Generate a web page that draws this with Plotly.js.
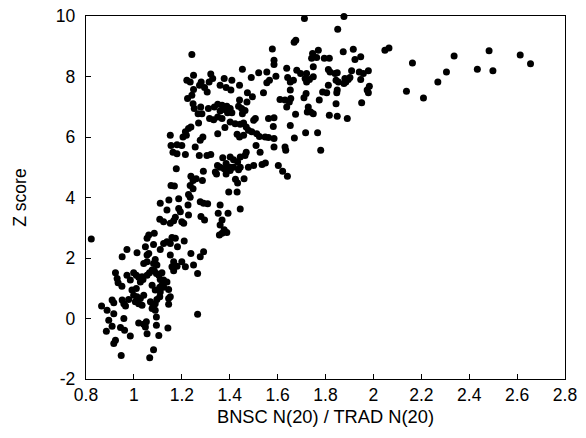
<!DOCTYPE html>
<html>
<head>
<meta charset="utf-8">
<script src="https://cdn.plot.ly/plotly-3.0.1.min.js"></script>
<style>html,body{margin:0;padding:0;background:#fff;}#chart{width:586px;height:438px;}</style>
</head>
<body>
<div id="chart"></div>
<script>
// BNSC N(20) / TRAD N(20) ratio
const ratio = [
1.242,1.578,1.585,1.585,1.669,1.676,1.638,1.680,1.453,1.521,1.555,1.490,1.593,1.249,1.221,1.235,1.281,1.274,1.321,1.329,
1.314,1.295,1.249,1.306,1.360,1.377,1.409,1.385,1.405,1.441,1.474,1.495,1.541,1.555,1.566,1.642,1.653,1.666,1.653,1.610,
1.631,1.649,1.655,1.224,1.242,1.247,1.252,1.268,1.284,1.279,1.311,1.336,1.350,1.368,1.388,1.402,1.409,1.377,1.391,1.360,
1.437,1.450,1.464,1.441,1.472,1.453,1.316,1.333,1.350,1.368,1.380,1.350,1.402,1.423,1.444,1.458,1.469,1.500,1.507,1.562,
1.585,1.582,1.638,1.653,1.675,1.670,1.631,1.634,1.270,1.228,1.238,1.215,1.219,1.205,1.152,1.155,1.180,1.200,1.163,1.180,
1.215,1.277,1.288,1.256,1.273,1.305,1.321,1.431,1.441,1.458,1.478,1.492,1.513,1.524,1.548,1.562,1.585,1.585,1.510,1.527,
1.469,1.464,1.444,1.433,1.402,1.416,1.371,1.385,1.349,1.360,1.377,1.402,1.416,1.340,1.345,1.385,1.402,1.437,1.444,1.478,
1.500,1.535,1.549,1.603,1.621,1.641,1.177,1.238,1.260,1.247,1.290,1.286,1.424,1.433,1.460,1.155,1.169,1.235,1.247,1.228,
1.235,1.396,1.431,1.187,
1.110,1.146,1.226,1.187,1.194,1.138,1.108,1.124,1.152,1.166,1.173,1.200,1.208,1.228,1.277,1.291,1.308,1.280,1.295,1.360,
1.352,1.368,1.360,1.357,1.368,1.377,1.388,1.393,1.444,1.055,1.062,1.085,1.082,1.124,1.138,1.152,1.159,1.173,1.210,1.182,
1.110,1.048,0.971,0.951,1.013,1.055,1.062,1.089,1.082,1.096,1.041,1.055,1.152,1.166,1.159,1.166,1.180,1.200,1.215,1.238,
1.249,1.266,1.277,1.291,0.923,0.930,0.950,0.934,0.971,0.985,0.999,1.010,1.020,1.034,1.010,1.027,1.038,1.055,1.065,1.076,
1.085,1.094,1.104,1.117,1.110,1.124,1.138,1.108,1.124,1.145,1.089,1.117,1.124,1.076,0.992,0.999,0.978,1.013,1.027,1.006,
1.020,1.034,1.041,0.951,0.958,0.965,0.909,0.916,0.865,0.888,0.916,0.895,0.909,0.885,0.923,0.916,0.947,0.958,0.944,0.961,
0.985,1.069,1.080,1.089,1.076,1.089,1.096,1.108,1.110,1.145,1.152,1.145,1.094,1.094,1.104,1.020,1.041,1.048,1.052,1.055,
1.142,1.082,1.066,1.266,0.822,
1.712,1.877,1.851,1.746,1.770,1.874,1.916,1.742,1.763,1.795,1.816,1.923,1.947,1.749,1.696,1.721,1.721,1.733,1.749,1.715,
1.812,1.819,1.840,1.849,1.844,1.854,1.881,1.895,1.902,1.877,1.885,1.909,1.941,1.958,1.979,1.947,1.812,1.788,1.805,1.849,
1.847,1.974,1.983,1.979,1.774,1.710,1.719,1.844,1.951,1.728,1.738,1.749,1.724,1.816,1.849,1.891,1.717,1.767,1.780,
2.048,2.065,2.163,2.138,2.209,2.269,2.305,2.337,2.434,2.483,2.499,2.613,2.656
];
// Z score
const zscore = [
8.73,8.91,8.54,8.40,9.13,9.20,8.27,8.21,8.24,8.12,8.15,7.97,8.01,8.04,7.88,7.82,7.82,7.71,8.08,7.93,
7.82,7.64,7.57,7.49,7.71,7.93,7.88,7.64,7.55,7.71,7.46,7.33,7.46,7.79,7.88,7.97,7.82,7.88,7.55,7.24,
7.22,7.16,7.27,7.27,7.38,7.10,6.94,6.77,6.77,6.99,6.94,6.99,7.08,7.05,7.02,6.94,6.80,6.91,6.80,6.86,
7.02,6.94,6.88,7.22,7.16,6.77,6.61,6.57,6.66,6.61,6.31,6.11,6.50,6.44,6.42,6.46,6.33,6.55,6.61,6.61,
6.64,6.35,6.99,6.38,6.75,5.97,5.67,5.56,6.46,6.28,6.33,6.17,6.06,6.00,6.06,5.72,5.74,5.72,5.50,5.45,
5.42,5.89,6.00,5.67,5.39,5.39,5.42,6.09,6.00,6.06,6.22,6.17,6.11,6.02,6.00,5.98,5.95,5.67,5.72,5.50,
5.50,5.39,5.34,5.17,5.34,5.25,5.31,5.12,5.06,5.00,4.95,5.00,5.00,4.84,4.78,4.78,4.89,4.92,5.00,5.00,
5.06,5.09,5.14,5.06,4.87,4.70,4.95,4.70,4.62,4.56,4.87,4.56,4.60,4.48,4.62,4.40,4.38,4.40,4.29,4.10,
4.01,4.18,4.18,3.96,
3.81,3.92,3.75,3.64,3.53,3.59,3.28,3.20,3.15,3.23,3.35,3.20,3.15,3.42,3.86,3.81,3.79,3.37,3.26,3.75,
3.48,3.26,3.09,2.76,2.82,2.93,2.84,3.48,3.62,2.65,2.76,2.82,2.45,2.48,2.54,2.48,2.68,2.65,2.56,2.37,
2.28,2.37,2.28,2.04,2.17,2.10,2.15,1.95,1.82,1.77,1.82,1.88,2.10,1.88,1.71,1.58,1.73,1.88,1.71,2.15,
1.77,1.49,2.04,2.21,1.51,1.32,1.07,1.18,1.43,1.27,1.51,1.43,1.36,1.38,0.99,1.21,1.29,1.43,1.51,1.60,
1.58,1.49,1.43,1.51,1.29,1.27,1.21,1.03,1.03,0.96,0.94,1.10,1.16,1.10,0.94,0.77,0.63,0.72,0.66,0.55,
0.49,0.44,0.77,0.61,0.49,0.41,0.61,0.52,0.41,0.27,0.16,-0.06,-0.26,-0.42,-0.72,-0.83,-1.22,0.00,-0.30,-0.39,
-0.58,0.55,0.44,0.49,0.33,0.27,0.63,0.72,0.88,0.66,0.72,0.47,0.05,-0.22,-0.56,-0.15,-0.19,-0.28,-0.11,-0.50,
-0.31,-1.03,-1.30,0.14,2.63,
9.92,9.98,9.56,8.76,8.87,8.82,8.90,8.60,8.63,8.60,8.60,8.56,8.65,8.32,8.10,8.10,7.82,7.90,7.99,7.93,
8.23,8.15,8.10,8.12,7.88,7.82,7.93,7.90,7.97,7.77,7.82,8.19,8.15,8.10,8.19,7.90,7.71,7.49,7.46,7.55,
7.46,7.55,7.68,7.46,7.22,7.30,7.44,7.10,7.13,6.99,6.83,6.77,6.83,6.72,6.69,6.61,6.14,6.14,5.56,
8.87,8.94,8.45,7.51,7.29,7.82,8.15,8.68,8.24,8.85,8.19,8.71,8.42
];
const xTicks = [0.8,1,1.2,1.4,1.6,1.8,2,2.2,2.4,2.6,2.8];
const yTicks = [-2,0,2,4,6,8,10];

const font = {family: '"Liberation Sans", Arial, sans-serif', color: '#000'};
Plotly.newPlot('chart', [{
  type: 'scatter', mode: 'markers', x: ratio, y: zscore,
  marker: {color: '#000', size: 7},
  cliponaxis: false, hoverinfo: 'skip'
}], {
  width: 586, height: 438,
  margin: {l: 85.5, r: 21, t: 16, b: 59},
  paper_bgcolor: '#fff', plot_bgcolor: '#fff',
  showlegend: false,
  font: Object.assign({size: 17.5}, font),
  xaxis: {
    range: [0.8, 2.8], tickvals: xTicks, ticktext: xTicks.map(String),
    showgrid: false, zeroline: false,
    showline: true, linecolor: '#000', linewidth: 1.3, mirror: true,
    ticks: 'inside', ticklen: 5, tickcolor: '#000', tickwidth: 1,
    tickfont: Object.assign({size: 17.5}, font),
    title: {text: 'BNSC N(20) / TRAD N(20)', font: Object.assign({size: 18.3}, font), standoff: 6}
  },
  yaxis: {
    range: [-2, 10], tickvals: yTicks, ticktext: yTicks.map(String),
    showgrid: false, zeroline: false,
    showline: true, linecolor: '#000', linewidth: 1.3, mirror: true,
    ticks: 'inside', ticklen: 5, tickcolor: '#000', tickwidth: 1,
    ticklabelstandoff: 6,
    tickfont: Object.assign({size: 17.5}, font),
    title: {text: 'Z score', font: Object.assign({size: 17.5}, font), standoff: 24}
  }
}, {staticPlot: true, displayModeBar: false});
</script>
</body>
</html>
